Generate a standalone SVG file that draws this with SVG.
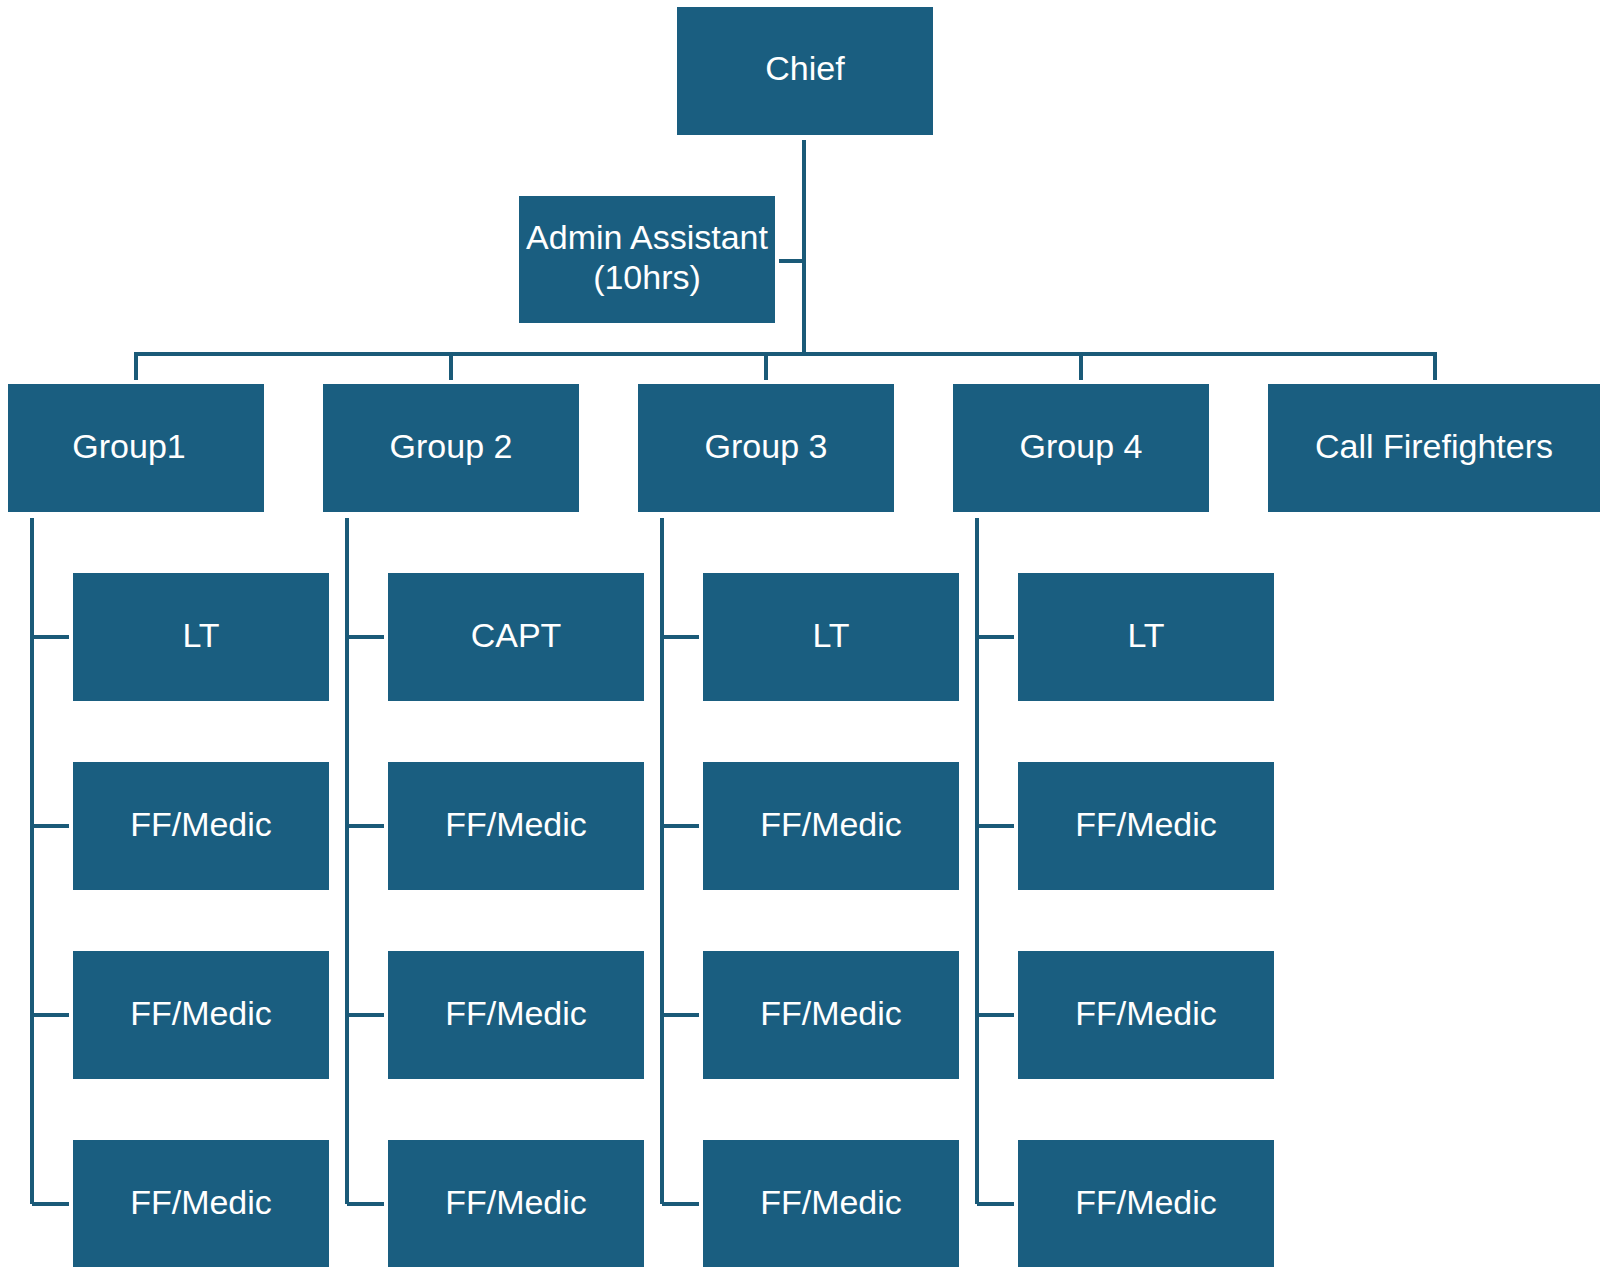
<svg xmlns="http://www.w3.org/2000/svg" width="1600" height="1267" viewBox="0 0 1600 1267">
<style>
.box{fill:#1a5e80}
.t{fill:#ffffff;font-family:"Liberation Sans",Arial,sans-serif;font-size:34px;text-anchor:middle}
.c{stroke:#1a5a78;stroke-width:4;fill:none}
</style>
<rect width="1600" height="1267" fill="#ffffff"/>
<g id="connectors" class="c">
<path d="M804,140V354M779,261H804M134,354H1437M136,354V380M451,354V380M766,354V380M1081,354V380M1435,354V380"/>
<path d="M32,518V1204M32,637H69M32,826H69M32,1015H69M32,1204H69"/>
<path d="M347,518V1204M347,637H384M347,826H384M347,1015H384M347,1204H384"/>
<path d="M662,518V1204M662,637H699M662,826H699M662,1015H699M662,1204H699"/>
<path d="M977,518V1204M977,637H1014M977,826H1014M977,1015H1014M977,1204H1014"/>
</g>
<g id="chief"><rect class="box" x="677" y="7" width="256" height="128"/><text class="t" x="805" y="80">Chief</text></g>
<g id="admin"><rect class="box" x="519" y="196" width="256" height="127"/><text class="t" x="647" y="249">Admin Assistant</text><text class="t" x="647" y="289">(10hrs)</text></g>
<g id="group1"><rect class="box" x="8" y="384" width="256" height="128"/><text class="t" x="129" y="458">Group1</text></g>
<g id="group2"><rect class="box" x="323" y="384" width="256" height="128"/><text class="t" x="451" y="458">Group 2</text></g>
<g id="group3"><rect class="box" x="638" y="384" width="256" height="128"/><text class="t" x="766" y="458">Group 3</text></g>
<g id="group4"><rect class="box" x="953" y="384" width="256" height="128"/><text class="t" x="1081" y="458">Group 4</text></g>
<g id="call"><rect class="box" x="1268" y="384" width="332" height="128"/><text class="t" x="1434" y="458">Call Firefighters</text></g>
<g id="g1-lt"><rect class="box" x="73" y="573" width="256" height="128"/><text class="t" x="201" y="647">LT</text></g>
<g id="g1-ff1"><rect class="box" x="73" y="762" width="256" height="128"/><text class="t" x="201" y="836">FF/Medic</text></g>
<g id="g1-ff2"><rect class="box" x="73" y="951" width="256" height="128"/><text class="t" x="201" y="1025">FF/Medic</text></g>
<g id="g1-ff3"><rect class="box" x="73" y="1140" width="256" height="128"/><text class="t" x="201" y="1214">FF/Medic</text></g>
<g id="g2-capt"><rect class="box" x="388" y="573" width="256" height="128"/><text class="t" x="516" y="647">CAPT</text></g>
<g id="g2-ff1"><rect class="box" x="388" y="762" width="256" height="128"/><text class="t" x="516" y="836">FF/Medic</text></g>
<g id="g2-ff2"><rect class="box" x="388" y="951" width="256" height="128"/><text class="t" x="516" y="1025">FF/Medic</text></g>
<g id="g2-ff3"><rect class="box" x="388" y="1140" width="256" height="128"/><text class="t" x="516" y="1214">FF/Medic</text></g>
<g id="g3-lt"><rect class="box" x="703" y="573" width="256" height="128"/><text class="t" x="831" y="647">LT</text></g>
<g id="g3-ff1"><rect class="box" x="703" y="762" width="256" height="128"/><text class="t" x="831" y="836">FF/Medic</text></g>
<g id="g3-ff2"><rect class="box" x="703" y="951" width="256" height="128"/><text class="t" x="831" y="1025">FF/Medic</text></g>
<g id="g3-ff3"><rect class="box" x="703" y="1140" width="256" height="128"/><text class="t" x="831" y="1214">FF/Medic</text></g>
<g id="g4-lt"><rect class="box" x="1018" y="573" width="256" height="128"/><text class="t" x="1146" y="647">LT</text></g>
<g id="g4-ff1"><rect class="box" x="1018" y="762" width="256" height="128"/><text class="t" x="1146" y="836">FF/Medic</text></g>
<g id="g4-ff2"><rect class="box" x="1018" y="951" width="256" height="128"/><text class="t" x="1146" y="1025">FF/Medic</text></g>
<g id="g4-ff3"><rect class="box" x="1018" y="1140" width="256" height="128"/><text class="t" x="1146" y="1214">FF/Medic</text></g>
</svg>
